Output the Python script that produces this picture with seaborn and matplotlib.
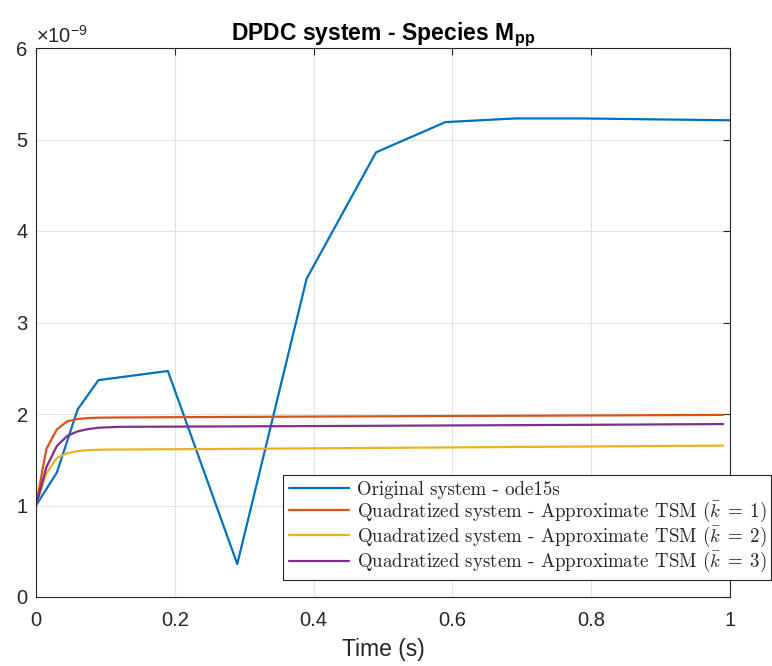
import matplotlib
matplotlib.use("Agg")
import matplotlib.pyplot as plt
import seaborn as sns
import pandas as pd
from matplotlib.ticker import FuncFormatter

# data (values in units of 1e-9)
t_orig = [0, 0.03, 0.06, 0.09, 0.19, 0.29, 0.39, 0.49, 0.59, 0.69, 0.79, 0.89, 1.0]
y_orig = [1.0, 1.36, 2.05, 2.37, 2.47, 0.36, 3.48, 4.86, 5.19, 5.23, 5.23, 5.22, 5.21]

t_tsm = [0, 0.015, 0.03, 0.045, 0.06, 0.075, 0.09, 0.12, 0.2, 0.4, 0.6, 0.8, 0.99]
y_k1 = [1.0, 1.62, 1.83, 1.92, 1.945, 1.955, 1.96, 1.962, 1.965, 1.972, 1.978, 1.984, 1.99]
y_k2 = [1.0, 1.35, 1.52, 1.57, 1.595, 1.605, 1.61, 1.612, 1.615, 1.625, 1.635, 1.645, 1.655]
y_k3 = [1.0, 1.42, 1.65, 1.76, 1.81, 1.835, 1.85, 1.86, 1.862, 1.868, 1.875, 1.882, 1.89]

labels = [
    "Original system - ode15s",
    r"Quadratized system - Approximate TSM ($\bar{k}\;=\;1$)",
    r"Quadratized system - Approximate TSM ($\bar{k}\;=\;2$)",
    r"Quadratized system - Approximate TSM ($\bar{k}\;=\;3$)",
]
colors = ["#0072BD", "#D95319", "#EDB120", "#7E2F8E"]

sns.set_style("whitegrid")
plt.rcParams["font.family"] = ["Liberation Sans", "DejaVu Sans"]
plt.rcParams["mathtext.fontset"] = "custom"
plt.rcParams["mathtext.rm"] = "cmr10"
plt.rcParams["mathtext.it"] = "cmmi10"
plt.rcParams["mathtext.bf"] = "Liberation Sans:bold"
plt.rcParams["mathtext.sf"] = "Liberation Sans"

fig = plt.figure(figsize=(7.72, 6.66), dpi=100)
ax = fig.add_axes([36 / 772, 69 / 666, 694 / 772, 549 / 666])

series = [(t_orig, y_orig), (t_tsm, y_k1), (t_tsm, y_k2), (t_tsm, y_k3)]
for (tt, yy), lab, c in zip(series, labels, colors):
    df = pd.DataFrame({"t": tt, "y": yy})
    sns.lineplot(data=df, x="t", y="y", color=c, linewidth=1.6, label=lab, ax=ax)

ax.set_xlim(0, 1)
ax.set_ylim(0, 6)
ax.set_xticks([0, 0.2, 0.4, 0.6, 0.8, 1])
ax.set_yticks(range(7))
ax.xaxis.set_major_formatter(FuncFormatter(lambda v, p: "%g" % v))
ax.tick_params(direction="in", top=True, right=True, labelsize=14.5,
               length=5, width=0.8, colors="#262626")
ax.tick_params(axis="x", pad=10)
ax.tick_params(axis="y", pad=6)
ax.grid(True, color="#e3e3e3", linewidth=0.8)
for s in ax.spines.values():
    s.set_color("#262626")
    s.set_linewidth(0.8)

ax.set_xlabel("Time (s)", fontsize=16.5, color="#262626", labelpad=6)
ax.set_ylabel("")
ax.set_title(r"DPDC system - Species M$_{\mathbf{pp}}$", fontsize=16.5,
             fontweight="bold", color="black", pad=6)
ax.text(0.0, 1.003, r"$\mathsf{\times 10^{-9}}$", transform=ax.transAxes,
        fontsize=14.5, ha="left", va="bottom", color="#262626")

leg = ax.legend(loc="lower left", bbox_to_anchor=(283 / 772, 86 / 666, 488 / 772, 102 / 666),
                bbox_transform=fig.transFigure, mode="expand",
                prop={"family": "cmr10", "size": 13.6}, frameon=True, fancybox=False,
                framealpha=1, edgecolor="#262626", handlelength=3.2,
                borderpad=0.3, labelspacing=0.05, handletextpad=0.4, borderaxespad=0)
leg.get_frame().set_linewidth(0.8)
leg.set_clip_on(False)

fig.savefig("out.png", dpi=100)
